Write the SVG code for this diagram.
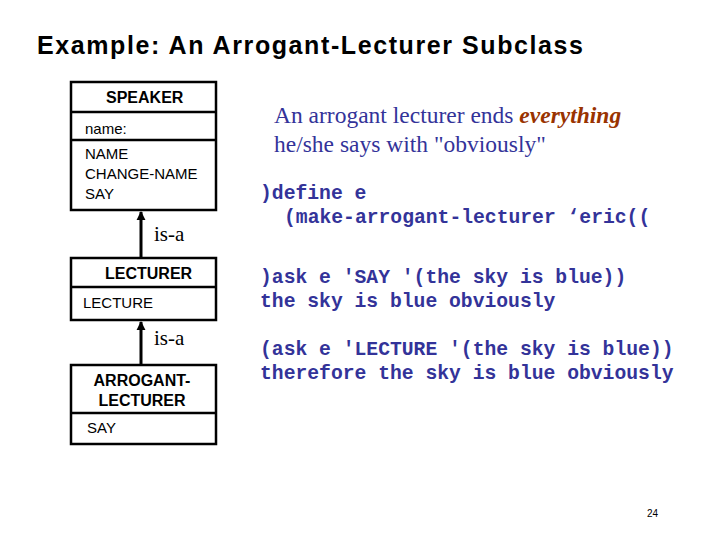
<svg xmlns="http://www.w3.org/2000/svg" width="720" height="540" viewBox="0 0 720 540">
<style>
.box{fill:#fff;stroke:#000;stroke-width:2.5}
.s{font-family:"Liberation Sans",Arial,sans-serif;font-size:15px;fill:#000}
.b{font-weight:bold;font-size:16px}
.isa{font-family:"Liberation Serif",serif;font-size:21px;fill:#000}
.c{font-family:"Liberation Mono","Courier New",monospace;font-weight:bold;font-size:19.7px;fill:#333399}
.t{font-family:"Liberation Serif",serif;font-size:23.5px;fill:#333399}
</style>
<defs><marker id="ar" viewBox="0 0 10 10" refX="9" refY="5" markerWidth="3" markerHeight="4" orient="auto"><path d="M0,0L10,5L0,10z" fill="#000"/></marker></defs>
<rect width="720" height="540" fill="#fff"/>
<text x="37" y="54" textLength="546" style="font-family:'Liberation Sans',Arial,sans-serif;font-weight:bold;font-size:25px">Example: An Arrogant-Lecturer Subclass</text>
<g id="connectors" stroke="#000" stroke-width="3">
<line x1="141" y1="258" x2="141" y2="212" marker-end="url(#ar)"/>
<line x1="141" y1="365" x2="141" y2="322" marker-end="url(#ar)"/>
</g>
<g id="speaker">
<rect class="box" x="71" y="82" width="145" height="128"/>
<line x1="71" y1="112" x2="216" y2="112" stroke="#000" stroke-width="2.5"/>
<line x1="71" y1="140" x2="216" y2="140" stroke="#000" stroke-width="2.5"/>
<text class="s b" x="106" y="103">SPEAKER</text>
<text class="s" x="85" y="134">name:</text>
<text class="s" x="85" y="159">NAME</text>
<text class="s" x="85" y="179">CHANGE-NAME</text>
<text class="s" x="85" y="199">SAY</text>
</g>
<text class="isa" x="154" y="241">is-a</text>
<g id="lecturer">
<rect class="box" x="71" y="258" width="145" height="62"/>
<line x1="71" y1="287" x2="216" y2="287" stroke="#000" stroke-width="2.5"/>
<text class="s b" x="105" y="279">LECTURER</text>
<text class="s" x="83" y="308">LECTURE</text>
</g>
<text class="isa" x="154" y="345">is-a</text>
<g id="arrogant">
<rect class="box" x="71" y="365" width="145" height="79"/>
<line x1="71" y1="413" x2="216" y2="413" stroke="#000" stroke-width="2.5"/>
<text class="s b" x="142" y="386" text-anchor="middle">ARROGANT-</text>
<text class="s b" x="142" y="406" text-anchor="middle">LECTURER</text>
<text class="s" x="87" y="433">SAY</text>
</g>
<text class="t" x="274" y="123">An arrogant lecturer ends <tspan font-style="italic" font-weight="bold" fill="#993300">everything</tspan></text>
<text class="t" x="274" y="152">he/she says with "obviously"</text>
<text class="c" x="260" y="199">)define e</text>
<text class="c" x="284" y="223">(make-arrogant-lecturer ‘eric((</text>
<text class="c" x="260" y="283">)ask e 'SAY '(the sky is blue))</text>
<text class="c" x="260" y="307">the sky is blue obviously</text>
<text class="c" x="260" y="355">(ask e 'LECTURE '(the sky is blue))</text>
<text class="c" x="260" y="379">therefore the sky is blue obviously</text>
<text x="647" y="517" style="font-family:'Liberation Sans',Arial,sans-serif;font-size:10px">24</text>
</svg>
